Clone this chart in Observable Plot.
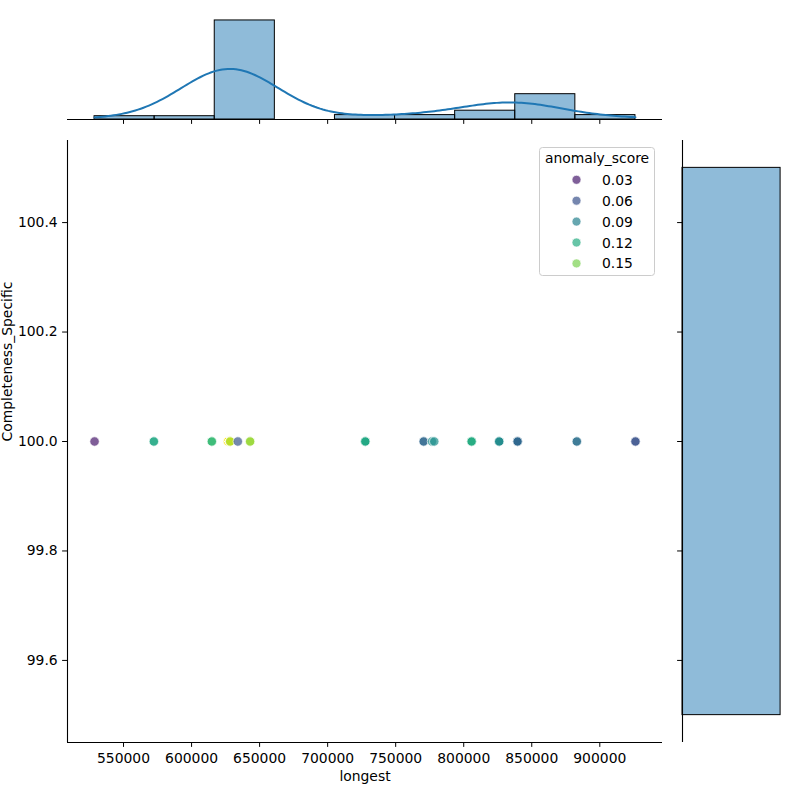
<!DOCTYPE html>
<html>
<head>
<meta charset="utf-8">
<script src="https://cdn.jsdelivr.net/npm/d3@7"></script>
<script src="https://cdn.jsdelivr.net/npm/@observablehq/plot@0.6"></script>
<style>
  body { margin: 0; background: #ffffff; }
  #chart { position: relative; width: 800px; height: 800px; font-family: "DejaVu Sans", sans-serif; }
  #chart > svg { position: absolute; }
</style>
</head>
<body>
<div id="chart"></div>
<script>
// Distinct observations: longest contig, completeness, anomaly score, and how many records share them
const longest = [528700, 572300, 614900, 626650, 628340, 628340, 633990, 643020, 727680,
                 770560, 776650, 778340, 805800, 826060, 839570, 883110, 926200];
const completenessSpecific = [100, 100, 100, 100, 100, 100, 100, 100, 100,
                              100, 100, 100, 100, 100, 100, 100, 100];
const anomalyScore = [0.029, 0.117, 0.13, 0.183, 0.018, 0.166, 0.062, 0.158, 0.117,
                      0.073, 0.1, 0.1, 0.12, 0.097, 0.073, 0.079, 0.06];
const repeats = [1, 2, 3, 1, 1, 84, 1, 3, 4, 2, 1, 1, 4, 4, 23, 2, 2];

// Axis ticks and legend entries
const xTicks = [550000, 600000, 650000, 700000, 750000, 800000, 850000, 900000];
const yTicks = [99.6, 99.8, 100.0, 100.2, 100.4];
const legendTicks = [0.03, 0.06, 0.09, 0.12, 0.15];

// One row per record
const rows = [];
longest.forEach((x, i) => {
  for (let k = 0; k < repeats[i]; k++) {
    rows.push({longest: x, completeness: completenessSpecific[i], score: anomalyScore[i]});
  }
});
const n = rows.length;
const xs = rows.map(d => d.longest);

// Scale domains with 5% padding
const [xMin, xMax] = d3.extent(xs);
const xPad = (xMax - xMin) * 0.05;
const xDomain = [xMin - xPad, xMax + xPad];
const yValue = completenessSpecific[0];
const yBin = [yValue - 0.5, yValue + 0.5];
const yDomain = [yBin[0] - 0.05, yBin[1] + 0.05];
const scoreDomain = d3.extent(anomalyScore);

// Histogram of longest: 9 equal bins over the data range
const nBins = 9;
const binWidth = (xMax - xMin) / nBins;
const edges = d3.range(1, nBins).map(i => xMin + i * binWidth);
const bins = d3.bin().domain([xMin, xMax]).thresholds(edges)(xs);
const maxCount = d3.max(bins, b => b.length);

// Gaussian KDE (Scott's rule) scaled to counts, clipped to the data range
const bw = d3.deviation(xs) * Math.pow(n, -1 / 5);
const kde = d3.range(200).map(i => {
  const x = xMin + (xMax - xMin) * i / 199;
  const dens = d3.sum(xs, v => Math.exp(-0.5 * ((x - v) / bw) ** 2)) / (n * bw * Math.sqrt(2 * Math.PI));
  return {x, y: dens * n * binWidth};
});

const fontSize = 13.9;
const baseStyle = {fontFamily: "DejaVu Sans, sans-serif", fontSize: fontSize + "px", color: "#000", background: "transparent", overflow: "visible"};
const histFill = "#1f77b4";
const chart = document.getElementById("chart");

// Main scatter
const mainPlot = Plot.plot({
  width: 680, height: 800,
  marginLeft: 67, marginRight: 18, marginTop: 140, marginBottom: 58,
  style: baseStyle,
  x: {domain: xDomain, ticks: xTicks, tickSize: 4.9, tickPadding: 5.5, tickFormat: d3.format("d"), label: null},
  y: {domain: yDomain, ticks: yTicks, tickSize: 4.9, tickPadding: 4.9, tickFormat: d3.format(".1f"), label: null},
  color: {type: "linear", scheme: "viridis", domain: scoreDomain},
  marks: [
    Plot.ruleX([xDomain[0]], {stroke: "#000", strokeWidth: 1.1}),
    Plot.ruleY([yDomain[0]], {stroke: "#000", strokeWidth: 1.1}),
    Plot.dot(rows, {x: "longest", y: "completeness", fill: "score", r: 4.7, fillOpacity: 0.7, stroke: "white", strokeWidth: 0.7}),
    Plot.text(["longest"], {text: d => d, frameAnchor: "bottom", dy: 38, fontSize}),
    Plot.text(["Completeness_Specific"], {text: d => d, frameAnchor: "left", dx: -60, rotate: -90, fontSize})
  ]
});
mainPlot.style.left = "0px"; mainPlot.style.top = "0px";
chart.appendChild(mainPlot);

// Top marginal: histogram with KDE
const topPlot = Plot.plot({
  width: 680, height: 130,
  marginLeft: 67, marginRight: 18, marginTop: 15, marginBottom: 11,
  style: baseStyle,
  x: {domain: xDomain, ticks: xTicks, tickSize: 4.9, tickFormat: () => "", label: null},
  y: {domain: [0, maxCount * 1.05], axis: null},
  marks: [
    Plot.rectY(bins, {x1: "x0", x2: "x1", y: b => b.length, fill: histFill, fillOpacity: 0.5, stroke: "#000", strokeWidth: 1, inset: 0}),
    Plot.line(kde, {x: "x", y: "y", stroke: histFill, strokeWidth: 2}),
    Plot.ruleY([0], {stroke: "#000", strokeWidth: 1.1})
  ]
});
topPlot.style.left = "0px"; topPlot.style.top = "0px";
chart.appendChild(topPlot);

// Right marginal: histogram of completeness
const rightPlot = Plot.plot({
  width: 130, height: 800,
  marginLeft: 12, marginRight: 15, marginTop: 140, marginBottom: 58,
  style: baseStyle,
  x: {domain: [0, n * 1.05], axis: null},
  y: {domain: yDomain, ticks: yTicks, tickSize: 4.9, tickFormat: () => "", label: null},
  marks: [
    Plot.rect([{lo: yBin[0], hi: yBin[1], count: n}], {x1: 0, x2: "count", y1: "lo", y2: "hi", fill: histFill, fillOpacity: 0.5, stroke: "#000", strokeWidth: 1}),
    Plot.ruleX([0], {stroke: "#000", strokeWidth: 1.1})
  ]
});
rightPlot.style.left = "670px"; rightPlot.style.top = "0px";
chart.appendChild(rightPlot);

// Legend for anomaly_score
const color = d3.scaleSequential(d3.interpolateViridis).domain(scoreDomain);
const leg = d3.create("svg")
  .attr("width", 800).attr("height", 800)
  .style("left", "0px").style("top", "0px")
  .style("font-family", "DejaVu Sans, sans-serif")
  .style("font-size", fontSize + "px");
leg.append("rect")
  .attr("x", 539.5).attr("y", 147.5).attr("width", 115).attr("height", 128).attr("rx", 3)
  .attr("fill", "white").attr("fill-opacity", 0.8).attr("stroke", "#cccccc");
leg.append("text")
  .attr("x", 597).attr("y", 158).attr("text-anchor", "middle").attr("dominant-baseline", "central")
  .text("anomaly_score");
legendTicks.forEach((v, i) => {
  const cy = 179.8 + i * 20.9;
  leg.append("circle").attr("cx", 576.5).attr("cy", cy).attr("r", 4.5)
    .attr("fill", color(v)).attr("fill-opacity", 0.7).attr("stroke", "white").attr("stroke-width", 0.7);
  leg.append("text").attr("x", 602).attr("y", cy).attr("dominant-baseline", "central")
    .text(d3.format(".2f")(v));
});
chart.appendChild(leg.node());
</script>
</body>
</html>
